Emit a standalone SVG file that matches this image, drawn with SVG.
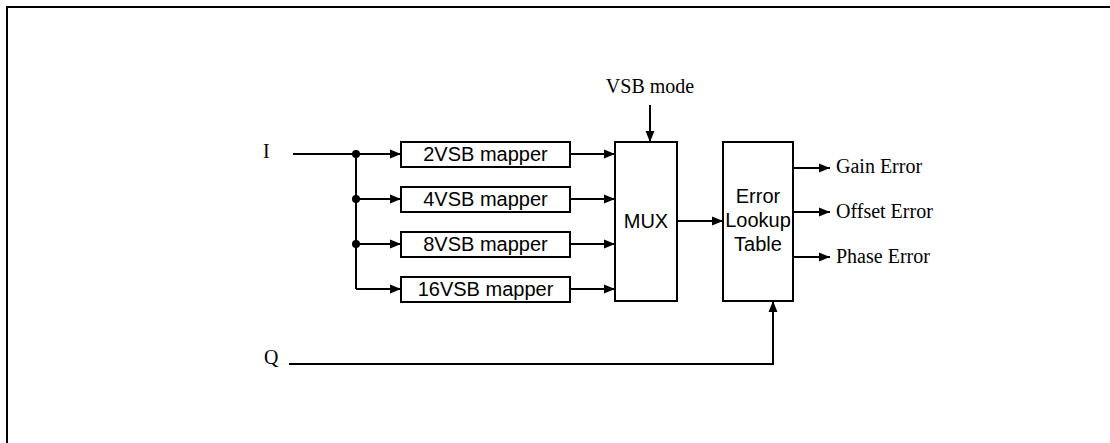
<svg xmlns="http://www.w3.org/2000/svg" width="1110" height="443" viewBox="0 0 1110 443">
<style>
.box{fill:#fff;stroke:#000;stroke-width:2}
.ln{fill:none;stroke:#000;stroke-width:2}
.sans{font-family:"Liberation Sans",Arial,sans-serif;font-size:20px;fill:#000}
.serif{font-family:"Liberation Serif","Times New Roman",serif;font-size:20px;fill:#000}
</style>
<defs>
<marker id="ah" markerUnits="userSpaceOnUse" markerWidth="12" markerHeight="10" refX="11" refY="5" orient="auto">
<path d="M0,0.5 L11,5 L0,9.5 Z" fill="#000"/>
</marker>
</defs>
<rect width="1110" height="443" fill="#fff"/>
<path d="M7,443 V7 H1110" fill="none" stroke="#000" stroke-width="2"/>

<g id="connectors">
<path class="ln" d="M293,154 H356 V289"/>
<path class="ln" d="M356,154 H401" marker-end="url(#ah)"/>
<path class="ln" d="M356,199 H401" marker-end="url(#ah)"/>
<path class="ln" d="M356,244 H401" marker-end="url(#ah)"/>
<path class="ln" d="M356,289 H401" marker-end="url(#ah)"/>
<circle cx="356" cy="154" r="4" fill="#000"/>
<circle cx="356" cy="199" r="4" fill="#000"/>
<circle cx="356" cy="244" r="4" fill="#000"/>
<path class="ln" d="M570,154 H615" marker-end="url(#ah)"/>
<path class="ln" d="M570,199 H615" marker-end="url(#ah)"/>
<path class="ln" d="M570,244 H615" marker-end="url(#ah)"/>
<path class="ln" d="M570,289 H615" marker-end="url(#ah)"/>
<path class="ln" d="M650,105 V142" marker-end="url(#ah)"/>
<path class="ln" d="M677,221 H723" marker-end="url(#ah)"/>
<path class="ln" d="M289,364 H773 V301" marker-end="url(#ah)"/>
<path class="ln" d="M793,168 H830" marker-end="url(#ah)"/>
<path class="ln" d="M793,212 H830" marker-end="url(#ah)"/>
<path class="ln" d="M793,257 H830" marker-end="url(#ah)"/>
</g>

<g id="label-I"><text class="serif" x="263" y="158">I</text></g>
<g id="label-Q"><text class="serif" x="264" y="364">Q</text></g>
<g id="label-vsbmode"><text class="serif" x="650" y="93" text-anchor="middle">VSB mode</text></g>

<g id="map2"><rect class="box" x="401" y="142" width="169" height="25"/><text class="sans" x="485.5" y="161" text-anchor="middle">2VSB mapper</text></g>
<g id="map4"><rect class="box" x="401" y="187" width="169" height="25"/><text class="sans" x="485.5" y="206" text-anchor="middle">4VSB mapper</text></g>
<g id="map8"><rect class="box" x="401" y="232" width="169" height="25"/><text class="sans" x="485.5" y="251" text-anchor="middle">8VSB mapper</text></g>
<g id="map16"><rect class="box" x="401" y="277" width="169" height="25"/><text class="sans" x="485.5" y="296" text-anchor="middle">16VSB mapper</text></g>

<g id="mux"><rect class="box" x="615" y="142" width="62" height="159"/><text class="sans" x="646" y="228" text-anchor="middle">MUX</text></g>

<g id="elt"><rect class="box" x="723" y="142" width="70" height="159"/>
<text class="sans" x="758" y="203" text-anchor="middle">Error</text>
<text class="sans" x="758" y="227" text-anchor="middle">Lookup</text>
<text class="sans" x="758" y="251" text-anchor="middle">Table</text></g>

<g id="out-gain"><text class="serif" x="836" y="173">Gain Error</text></g>
<g id="out-offset"><text class="serif" x="836" y="218">Offset Error</text></g>
<g id="out-phase"><text class="serif" x="836" y="263">Phase Error</text></g>
</svg>
